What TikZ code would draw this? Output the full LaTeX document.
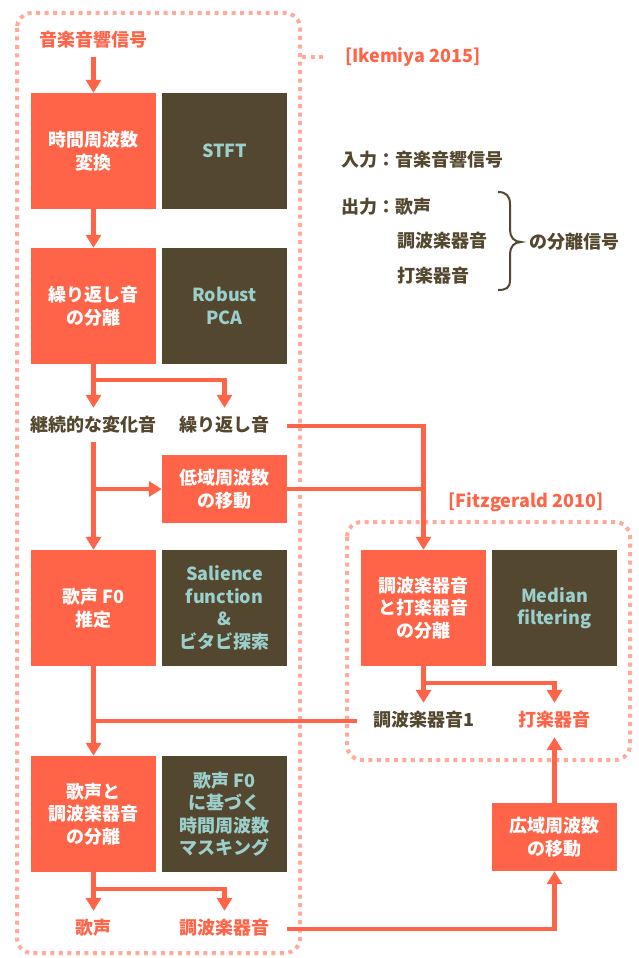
\documentclass[tikz,border=0pt]{standalone}
\usepackage{fontspec}
\setmainfont{Noto Sans CJK JP}
\usetikzlibrary{arrows.meta}
\definecolor{org}{HTML}{FF6448}
\definecolor{drk}{HTML}{54472F}
\definecolor{tel}{HTML}{9BCFCC}
\definecolor{dotc}{HTML}{FFAA9B}
\begin{document}
\begin{tikzpicture}[x=1pt,y=-1pt,
 every node/.style={font=\fontsize{18pt}{22.5pt}\selectfont\bfseries, align=center},
 obox/.style={fill=org, text=white, minimum width=125pt, minimum height=116pt, inner sep=0pt},
 dbox/.style={fill=drk, text=tel, minimum width=125pt, minimum height=116pt, inner sep=0pt},
 sbox/.style={obox, minimum height=68pt},
 lab/.style={text=drk, minimum height=34pt, inner sep=0pt},
 olab/.style={lab, text=org},
 conn/.style={draw=org, line width=4.5pt},
 arr/.style={conn, -{Triangle[length=13pt,width=15pt]}},
 dotline/.style={draw=dotc, line width=4pt, dash pattern=on 4pt off 4.5pt},
]
\useasboundingbox (0,0) rectangle (638,958);

% dotted groups
\draw[dotline, rounded corners=15pt] (17,13) rectangle (300,953);
\draw[dotline, rounded corners=15pt] (347,522) rectangle (630,760);

% labels of groups
\node[olab, anchor=west] (ike) at (345,57) {[Ikemiya 2015]};
\coordinate (ikeL) at (302,57);
\coordinate (ikeR) at (326,57);
\draw[dotline] (ikeL) -- (ikeR);
\node[olab] (fitz) at (526,502) {[Fitzgerald 2010]};

% info text
\node[lab, anchor=west] (inp) at (341,160) {入力：音楽音響信号};
\node[lab, anchor=west] (outp) at (341,207) {出力：歌声};
\node[lab, anchor=west] (o2) at (397,241) {調波楽器音};
\node[lab, anchor=west] (o3) at (397,276) {打楽器音};
\node[lab, anchor=west] (sepn) at (529,242) {の分離信号};
\draw[drk, line width=2pt] (498,192) .. controls (506,192) and (510,196) .. (510,204) -- (510,230)
  .. controls (510,237) and (514,242) .. (521,242)
  .. controls (514,242) and (510,247) .. (510,254) -- (510,280)
  .. controls (510,288) and (506,290) .. (498,290);

% nodes
\node[olab] (src) at (93.5,40) {音楽音響信号};
\node[obox] (b1o) at (93.5,151) {時間周波数\\変換};
\node[dbox] (b1d) at (224.5,151) {STFT};
\node[obox] (b2o) at (93.5,306) {繰り返し音\\の分離};
\node[dbox] (b2d) at (224.5,306) {Robust\\PCA};
\node[lab] (l1) at (93.5,425) {継続的な変化音};
\node[lab] (l2) at (224.5,425) {繰り返し音};
\node[sbox] (low) at (224.5,489) {低域周波数\\の移動};
\node[obox] (b3o) at (93.5,608) {歌声 F0\\推定};
\node[dbox] (b3d) at (224.5,608) {Salience\\function\\\&\\ビタビ探索};
\node[obox] (b4o) at (93.5,814) {歌声と\\調波楽器音\\の分離};
\node[dbox] (b4d) at (224.5,814) {歌声 F0\\に基づく\\時間周波数\\マスキング};
\node[olab] (v1) at (93.5,928) {歌声};
\node[olab] (v2) at (224.5,928) {調波楽器音};
\node[obox] (b5o) at (423.5,608) {調波楽器音\\と打楽器音\\の分離};
\node[dbox] (b5d) at (554.5,608) {Median\\filtering};
\node[lab] (h1) at (423.5,720) {調波楽器音1};
\node[olab] (perc) at (554.5,720) {打楽器音};
\node[sbox] (wide) at (554.5,837) {広域周波数\\の移動};

% connectors
\draw[arr] (src) -- (b1o);
\draw[arr] (b1o) -- (b2o);
\draw[arr] (b2o) -- (l1);
\coordinate (br1) at (93.5,380);
\draw[arr] (br1) -| (l2);
\coordinate (r1) at (287,426);
\draw[arr] (r1) -| (b5o);
\draw[arr] (l1) -- (b3o);
\coordinate (br2) at (93.5,489);
\draw[arr] (br2) -- (low);
\draw[conn] (low.east) -- (low.east -| b5o.north);
\draw[arr] (b3o) -- (b4o);
\coordinate (br3) at (93.5,721);
\coordinate (h1L) at (357,721);
\draw[conn] (br3) -- (h1L);
\draw[arr] (b4o) -- (v1);
\coordinate (br4) at (93.5,889);
\draw[arr] (br4) -| (v2);
\coordinate (r2) at (287,929);
\draw[arr] (r2) -| (wide);
\draw[arr] (wide) -- (perc);
\draw[arr] (b5o) -- (h1);
\coordinate (br5) at (423.5,683);
\draw[arr] (br5) -| (perc);
\end{tikzpicture}
\end{document}
